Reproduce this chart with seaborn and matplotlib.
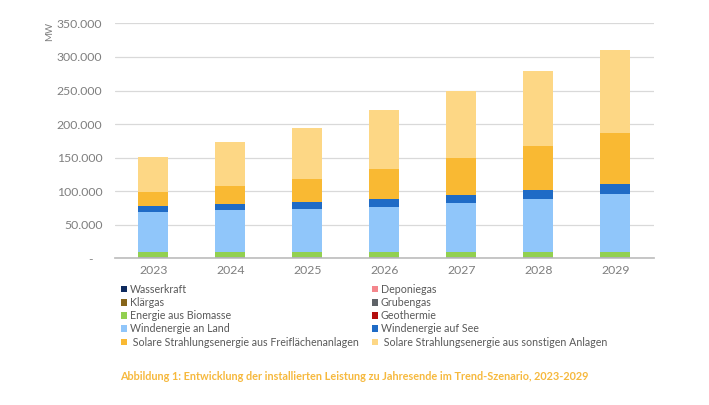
import pandas as pd
import seaborn as sns
import matplotlib.pyplot as plt
from matplotlib.patches import Patch
from matplotlib.ticker import FuncFormatter

# installed capacity at year end, MW
years = ["2023", "2024", "2025", "2026", "2027", "2028", "2029"]
wasserkraft = [600, 600, 600, 600, 600, 600, 600]
deponiegas = [150, 150, 150, 150, 150, 150, 150]
klaergas = [300, 300, 300, 300, 300, 300, 300]
grubengas = [900, 900, 900, 900, 900, 900, 900]
biomasse = [7900, 7900, 7900, 7900, 7900, 7900, 7900]
geothermie = [50, 50, 50, 50, 50, 50, 50]
wind_land = [59400, 61500, 63900, 66900, 72400, 78300, 85300]
wind_see = [8500, 9000, 10000, 11900, 12300, 13900, 15800]
solar_frei = [21300, 27600, 34200, 44200, 55100, 65500, 75500]
solar_sonst = [52100, 65100, 75900, 87800, 99700, 111100, 123900]

labels = [
    "Wasserkraft", "Deponiegas", "Klärgas", "Grubengas",
    "Energie aus Biomasse", "Geothermie", "Windenergie an Land",
    "Windenergie auf See", "Solare Strahlungsenergie aus Freiflächenanlagen",
    "Solare Strahlungsenergie aus sonstigen Anlagen",
]
colors = [
    "#0E2A5E", "#F4868C", "#86651A", "#5F6368", "#92D050",
    "#B40F0F", "#90C6FA", "#1F6BC6", "#F9B933", "#FDD785",
]

df = pd.DataFrame(
    dict(zip(labels, [wasserkraft, deponiegas, klaergas, grubengas, biomasse,
                      geothermie, wind_land, wind_see, solar_frei, solar_sonst])),
    index=years,
)
cum = df.cumsum(axis=1)

sns.set_theme(style="white")
plt.rcParams["font.family"] = ["Lato", "DejaVu Sans"]

fig = plt.figure(figsize=(7.09, 4.05), dpi=100)
ax = fig.add_axes([0.1622, 0.3622, 0.760, 0.580])

# stacked bars: draw the cumulative totals from the top layer down
for name, col in zip(labels[::-1], colors[::-1]):
    sns.barplot(x=years, y=cum[name].values, color=col, saturation=1,
                width=0.39, ax=ax, linewidth=0)

ax.set_ylim(0, 350000)
ax.set_yticks(range(0, 350001, 50000))
ax.yaxis.set_major_formatter(FuncFormatter(
    lambda v, p: "-   " if v == 0 else f"{int(v):,}".replace(",", ".")))
ax.grid(axis="y", color="#D9D9D9", linewidth=0.9)
ax.set_axisbelow(True)
for s in ["left", "right", "top"]:
    ax.spines[s].set_visible(False)
ax.spines["bottom"].set_color("#BFBFBF")
ax.tick_params(axis="both", length=0, labelsize=8.8, colors="#7F7F7F")
ax.tick_params(axis="y", pad=9)
ax.tick_params(axis="x", pad=5)
ax.set_xlabel("")
ax.text(-0.122, 0.965, "MW", rotation=90, transform=ax.transAxes,
        ha="center", va="center", fontsize=7, color="#7F7F7F")

handles = [Patch(facecolor=c, edgecolor="none") for c in colors]
left_idx = [0, 2, 4, 6, 8]
right_idx = [1, 3, 5, 7, 9]
for idx, xpos in [(left_idx, 121 / 709), (right_idx, 372 / 709)]:
    leg_labels = [(" " if "Solare" in labels[i] else "") + labels[i] for i in idx]
    fig.legend([handles[i] for i in idx], leg_labels, loc="upper left",
               bbox_to_anchor=(xpos, 1 - 284 / 405), frameon=False,
               fontsize=7.7, labelcolor="#595959", handlelength=0.55,
               handleheight=0.55, handletextpad=0.25, labelspacing=0.2,
               borderaxespad=0, borderpad=0)

fig.text(0.5, 1 - 376 / 405,
         "Abbildung 1: Entwicklung der installierten Leistung zu Jahresende im Trend-Szenario, 2023-2029",
         ha="center", va="center", fontsize=7.8, fontweight="bold", color="#F6B93E")

fig.savefig("out.png", dpi=100)
